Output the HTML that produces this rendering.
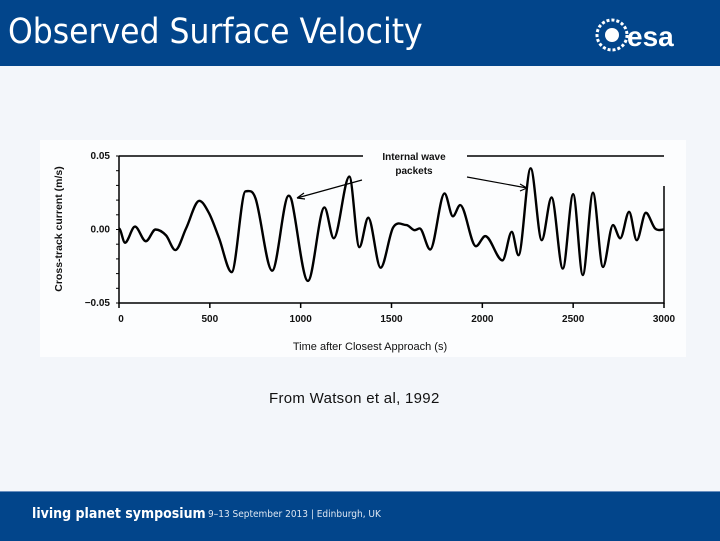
<!DOCTYPE html>
<html><head><meta charset="utf-8"><style>
body{margin:0;width:720px;height:540px;overflow:hidden;background:#f3f6fa;font-family:"Liberation Sans",sans-serif;position:relative}
#hdr{position:absolute;left:0;top:0;width:720px;height:66px;background:#02458b}
#title{position:absolute;left:8px;top:12px;color:#fff;font-size:35px;font-family:"DejaVu Sans Condensed","Liberation Sans",sans-serif;font-weight:normal;letter-spacing:0px}
#ftr{position:absolute;left:0;top:491px;width:720px;height:49px;background:#02458b;border-top:1px solid #6a8fbf}
#chartbox{position:absolute;left:40px;top:140px;width:646px;height:217px;background:#fcfdfe}
#caption{position:absolute;left:269px;top:390px;font-size:15px;letter-spacing:0.3px;color:#111}
</style></head><body>
<div id="hdr">
<div id="title">Observed Surface Velocity</div>
<svg style="position:absolute;left:594px;top:16px" width="100" height="38">
<circle cx="18" cy="19" r="15" fill="none" stroke="#fff" stroke-width="3" stroke-dasharray="3 2"/>
<circle cx="18" cy="19" r="7" fill="#fff"/>
<text x="33" y="30" fill="#fff" font-size="28" font-weight="bold" font-family="Liberation Sans">esa</text>
</svg>
</div>
<div id="chartbox"></div>
<svg id="chart" style="position:absolute;left:0;top:0" width="720" height="540"></svg>
<div id="caption">From Watson et al, 1992</div>
<div id="ftr">
<span style="position:absolute;left:32px;top:14px;color:#fff;font-size:14px;font-weight:bold;font-family:'DejaVu Sans Condensed','Liberation Sans',sans-serif">living planet symposium</span>
<span style="position:absolute;left:208px;top:17px;color:#dde6f2;font-size:10px;font-family:'DejaVu Sans Condensed','Liberation Sans',sans-serif">9–13 September 2013 | Edinburgh, UK</span>
</div>
<script>
const times=[0,33,88,148,201,259,310,369,442,496,551,620,697,752,843,934,952,1040,1131,1182,1268,1323,1372,1440,1509,1582,1628,1655,1713,1792,1838,1878,1965,2016,2111,2162,2199,2266,2327,2381,2443,2500,2553,2609,2664,2719,2759,2808,2850,2900,2951,3000];
const values=[0.0007,-0.009,0.002,-0.008,0,-0.004,-0.014,0.0007,0.0195,0.011,-0.006,-0.029,0.026,0.021,-0.028,0.023,0.019,-0.035,0.015,-0.006,0.036,-0.012,0.008,-0.026,0.0014,0.003,-0.0005,0.0007,-0.0136,0.0245,0.009,0.0166,-0.0114,-0.0045,-0.021,-0.0016,-0.0175,0.0416,-0.0073,0.0218,-0.0266,0.024,-0.031,0.025,-0.0255,0.003,-0.006,0.012,-0.0073,0.0114,0.0007,0];
const xTicks=[0,500,1000,1500,2000,2500,3000];
const xTickLabels=["0","500","1000","1500","2000","2500","3000"];
const yTicks=[0.05,0,-0.05];
const yTickLabels=["0.05","0.00","\u22120.05"];
const NS="http://www.w3.org/2000/svg";
const svg=document.getElementById('chart');
const X=t=>119+t/3000*545;
const Y=v=>229.5-v/0.05*73.5;
function el(tag,attrs,parent){const e=document.createElementNS(NS,tag);for(const k in attrs)e.setAttribute(k,attrs[k]);(parent||svg).appendChild(e);return e;}
let f=el('path',{d:`M${X(0)} ${Y(0.05)}V${Y(-0.05)}H${X(3000)}V${Y(0.05)+30}M${X(0)} ${Y(0.05)}H363M467 ${Y(0.05)}H${X(3000)}`,fill:'none',stroke:'#000','stroke-width':1.5});


for(let i=0;i<=10;i++){const v=0.05-i*0.01;const t=el('line',{x1:X(0)-3,x2:X(0),y1:Y(v),y2:Y(v),stroke:'#000'});

}
xTicks.forEach((t,i)=>{const tk=el('line',{x1:X(t),x2:X(t),y1:Y(-0.05),y2:Y(-0.05)+5,stroke:'#000','stroke-width':1.5});


const lb=el('text',{x:X(t)+(i==0?2:0),y:322,'text-anchor':'middle','font-size':10,'font-weight':'bold',fill:'#111'});lb.textContent=xTickLabels[i];

});
yTicks.forEach((v,i)=>{const lb=el('text',{x:110,y:Y(v)+3,'text-anchor':'end','font-size':10,'font-weight':'bold',fill:'#111'});lb.textContent=yTickLabels[i];

});
const yt=el('text',{x:0,y:0,transform:'translate(62,229) rotate(-90)','text-anchor':'middle','font-size':10.5,'font-weight':'bold',fill:'#111'});yt.textContent='Cross-track current (m/s)';


const xt=el('text',{x:370,y:350,'text-anchor':'middle','font-size':11,fill:'#111'});xt.textContent='Time after Closest Approach (s)';


// curve: zero slope at local extrema, neighbor slope elsewhere
const P=times.map((t,i)=>[X(t),Y(values[i])]);
const m=P.map((p,i)=>{if(i==0||i==P.length-1)return 0;const a=P[i-1],b=P[i+1];
if((p[1]-a[1])*(b[1]-p[1])<=0)return 0;return (b[1]-a[1])/(b[0]-a[0]);});
let d=`M${P[0][0]} ${P[0][1]}`;
for(let i=0;i<P.length-1;i++){const p1=P[i],p2=P[i+1],dx=(p2[0]-p1[0])/3;
d+=`C${p1[0]+dx} ${p1[1]+m[i]*dx} ${p2[0]-dx} ${p2[1]-m[i+1]*dx} ${p2[0]} ${p2[1]}`;}
const ln=el('path',{d:d,fill:'none',stroke:'#000','stroke-width':2.4,'stroke-linejoin':'round'});


const a1=el('text',{x:414,y:160,'text-anchor':'middle','font-size':10,'font-weight':'bold',fill:'#111'});a1.textContent='Internal wave';


const a2=el('text',{x:414,y:174,'text-anchor':'middle','font-size':10,'font-weight':'bold',fill:'#111'});a2.textContent='packets';


const ar=el('path',{d:'M362 180L297 198M297 198l7 -5M297 198l8 1M467 177L527 188M527 188l-7 -4M527 188l-7 3',fill:'none',stroke:'#000','stroke-width':1.2});


</script>
</body></html>
